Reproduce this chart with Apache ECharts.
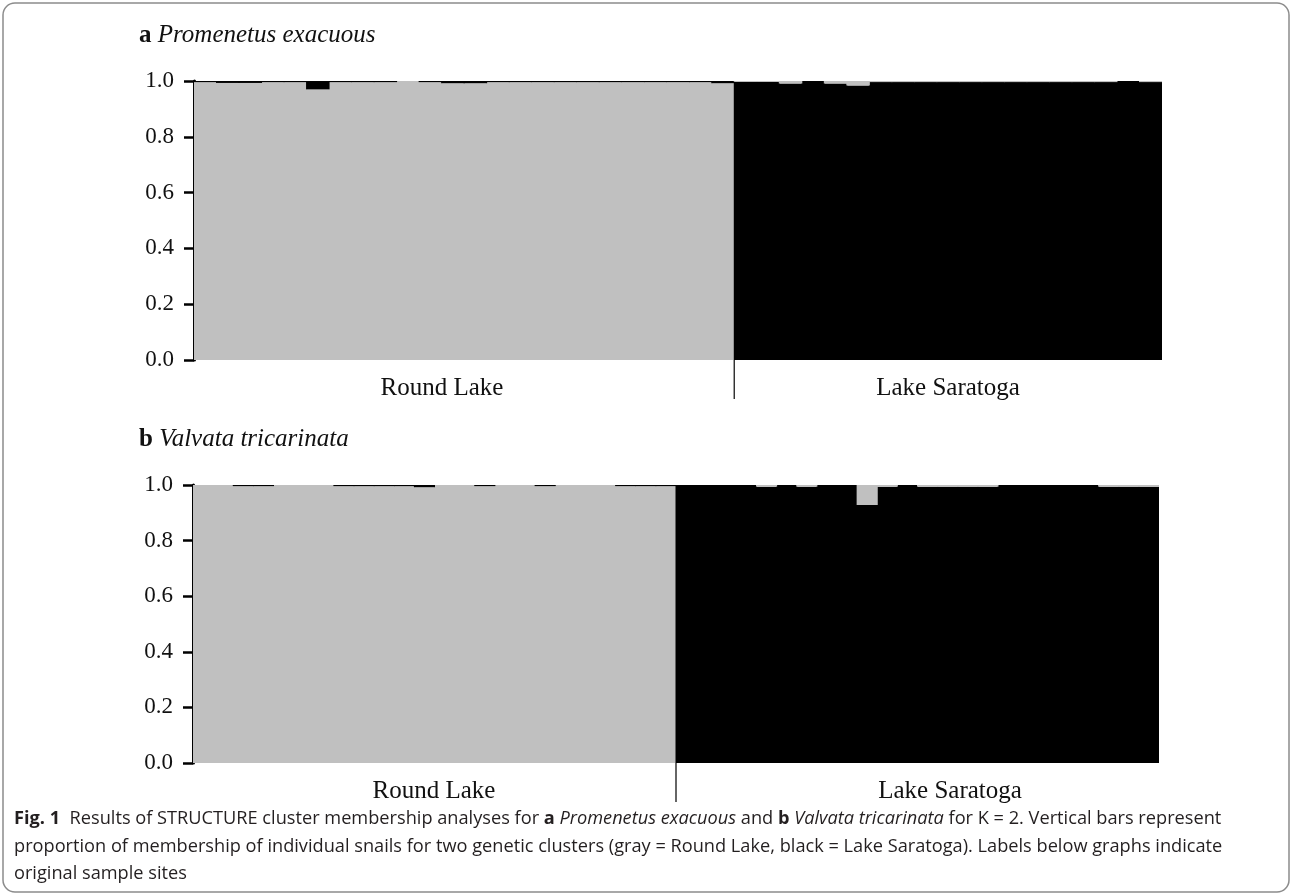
<!DOCTYPE html>
<html>
<head>
<meta charset="utf-8">
<script src="https://cdn.jsdelivr.net/npm/echarts@6/dist/echarts.min.js"></script>
<style>
html,body{margin:0;padding:0;background:#fff;}
#main{width:1293px;height:896px;}
</style>
</head>
<body>
<div id="main"></div>
<script>
// ---------------- DATA ----------------
// Populations (sample sites)
const populations = ['Round Lake', 'Lake Saratoga'];
// Proportion of membership in the gray (Round Lake) cluster for each individual; black = 1 - gray
// Panel a: Promenetus exacuous
const grayA_RoundLake = [0.996, 0.993, 0.993, 0.996, 0.996, 0.970, 0.996, 0.996, 0.996, 1.000, 0.996, 0.992,
                         0.992, 0.996, 0.996, 0.996, 0.996, 0.996, 0.996, 0.996, 0.996, 0.996, 0.996, 0.992];
const grayA_LakeSaratoga = [0.003, 0.003, 0.009, 0.000, 0.009, 0.016, 0.004, 0.004, 0.004, 0.004,
                            0.004, 0.004, 0.004, 0.004, 0.004, 0.004, 0.004, 0.000, 0.004];
// Panel b: Valvata tricarinata
const grayB_RoundLake = [1.000, 1.000, 0.996, 0.996, 1.000, 1.000, 1.000, 0.996, 0.996, 0.996, 0.996, 0.992,
                         1.000, 1.000, 0.996, 1.000, 1.000, 0.996, 1.000, 1.000, 1.000, 0.996, 0.996, 0.996];
const grayB_LakeSaratoga = [0.000, 0.000, 0.000, 0.000, 0.006, 0.000, 0.006, 0.000, 0.000, 0.072, 0.006, 0.000,
                            0.006, 0.006, 0.006, 0.006, 0.000, 0.000, 0.000, 0.000, 0.000, 0.006, 0.006, 0.006];
const yTicks = [0.0, 0.2, 0.4, 0.6, 0.8, 1.0];
const panelTitles = [['a', 'Promenetus exacuous'], ['b', 'Valvata tricarinata']];

// ---------------- BUILD ----------------
const GRAY = '#c0c0c0', BLACK = '#000000';
const SERIF = '"Liberation Serif", "Times New Roman", serif';
const SANS = '"Open Sans", "Noto Sans", sans-serif';

const grids = [
  {left: 194, top: 81, width: 968, height: 279},
  {left: 193, top: 485, width: 966, height: 278}
];

function nz(v){ return v > 0 ? v : '-'; }

function panelSeries(idx, grayRL, grayLS) {
  const n = grayRL.length + grayLS.length;
  const bw = grids[idx].width / n + 1; // slight overlap hides anti-aliasing seams
  const bottomGray = [], bottomBlack = [], topBlack = [], topGray = [];
  grayRL.forEach(g => { bottomGray.push(nz(g)); bottomBlack.push('-'); topBlack.push(nz(+(1 - g).toFixed(4))); topGray.push('-'); });
  grayLS.forEach(g => { bottomGray.push('-'); bottomBlack.push(nz(+(1 - g).toFixed(4))); topBlack.push('-'); topGray.push(nz(g)); });
  const mk = (name, data, color) => ({
    name, type: 'bar', stack: 'p' + idx, xAxisIndex: idx, yAxisIndex: idx, data,
    barWidth: bw, barGap: '0%', animation: false, silent: true,
    itemStyle: {color}
  });
  return [
    mk('Round Lake cluster', bottomGray, GRAY),
    mk('Lake Saratoga cluster', bottomBlack, BLACK),
    mk('Lake Saratoga cluster', topBlack, BLACK),
    mk('Round Lake cluster', topGray, GRAY)
  ];
}

function cats(prefix, nRL, nLS) {
  const c = [];
  for (let i = 0; i < nRL; i++) c.push(prefix + '-RL' + (i + 1));
  for (let i = 0; i < nLS; i++) c.push(prefix + '-LS' + (i + 1));
  return c;
}

const catsA = cats('a', grayA_RoundLake.length, grayA_LakeSaratoga.length);
const catsB = cats('b', grayB_RoundLake.length, grayB_LakeSaratoga.length);

const xAxes = [catsA, catsB].map((c, i) => ({
  type: 'category', gridIndex: i, data: c,
  axisLine: {show: false}, axisTick: {show: false}, axisLabel: {show: false}
}));
const yAxes = [0, 1].map(i => ({
  type: 'value', gridIndex: i, min: yTicks[0], max: yTicks[yTicks.length - 1], interval: 0.2,
  axisLine: {show: true, lineStyle: {color: '#000', width: 3}},
  axisTick: {show: true, length: 10, lineStyle: {color: '#000', width: 2.5}},
  splitLine: {show: false},
  axisLabel: {margin: 20, color: '#111', fontFamily: SERIF, fontSize: 23, formatter: v => v.toFixed(1)}
}));

// group labels & separators
const counts = [[grayA_RoundLake.length, grayA_LakeSaratoga.length], [grayB_RoundLake.length, grayB_LakeSaratoga.length]];
const labelX = [[442, 948], [434, 950]];
const graphic = [];
grids.forEach((g, i) => {
  const [n1, n2] = counts[i];
  const bx = g.left + g.width * n1 / (n1 + n2);
  const by = g.top + g.height;
  graphic.push({type: 'line', shape: {x1: bx, y1: by, x2: bx, y2: by + 39}, style: {stroke: '#333', lineWidth: 1.5}});
  populations.forEach((p, k) => {
    graphic.push({type: 'text', x: labelX[i][k], y: by + 28, style: {text: p, font: '25px ' + SERIF, fill: '#111', textAlign: 'center', textVerticalAlign: 'middle'}});
  });
});
graphic.push({type: 'rect', shape: {x: 3, y: 3, width: 1286, height: 889, r: 12}, style: {fill: 'none', stroke: '#8c8c8c', lineWidth: 1.5}, z: -1});

const titleRich = {
  b: {fontFamily: SERIF, fontWeight: 'bold', fontSize: 25, color: '#111'},
  s: {fontFamily: SERIF, fontWeight: 'normal', fontSize: 25, color: '#111'},
  i: {fontFamily: SERIF, fontStyle: 'italic', fontWeight: 'normal', fontSize: 25, color: '#111'}
};
const CAPSIZE = 18.2;
const capRich = {
  fb: {fontFamily: SANS, fontWeight: 'bold', fontSize: CAPSIZE, color: '#231f20'},
  n: {fontFamily: SANS, fontWeight: 'normal', fontSize: CAPSIZE, color: '#231f20'},
  it: {fontFamily: SANS, fontStyle: 'italic', fontWeight: 'normal', fontSize: CAPSIZE, color: '#231f20'}
};
const captionLines = [
  '{fb|Fig. 1}{n|  Results of STRUCTURE cluster membership analyses for }{fb|a}{n| }{it|Promenetus exacuous}{n| and }{fb|b}{n| }{it|Valvata tricarinata}{n| for K = 2. Vertical bars represent}',
  '{n|proportion of membership of individual snails for two genetic clusters (gray = Round Lake, black = Lake Saratoga). Labels below graphs indicate}',
  '{n|original sample sites}'
];
const titles = [];
panelTitles.forEach((t, i) => {
  titles.push({left: 139, top: grids[i].top - 58, padding: 0, text: '{b|' + t[0] + '}{s| }{i|' + t[1] + '}', textStyle: {fontWeight: 'normal', rich: titleRich}});
});
captionLines.forEach((c, k) => {
  titles.push({left: 14, top: 810 + k * 27.5, padding: 0, text: c, textStyle: {fontWeight: 'normal', rich: capRich}});
});

const chart = echarts.init(document.getElementById('main'), null, {renderer: 'canvas'});
chart.setOption({
  backgroundColor: '#fff',
  animation: false,
  title: titles,
  grid: grids,
  xAxis: xAxes,
  yAxis: yAxes,
  series: [].concat(panelSeries(0, grayA_RoundLake, grayA_LakeSaratoga), panelSeries(1, grayB_RoundLake, grayB_LakeSaratoga)),
  graphic: graphic
});
</script>
</body>
</html>
